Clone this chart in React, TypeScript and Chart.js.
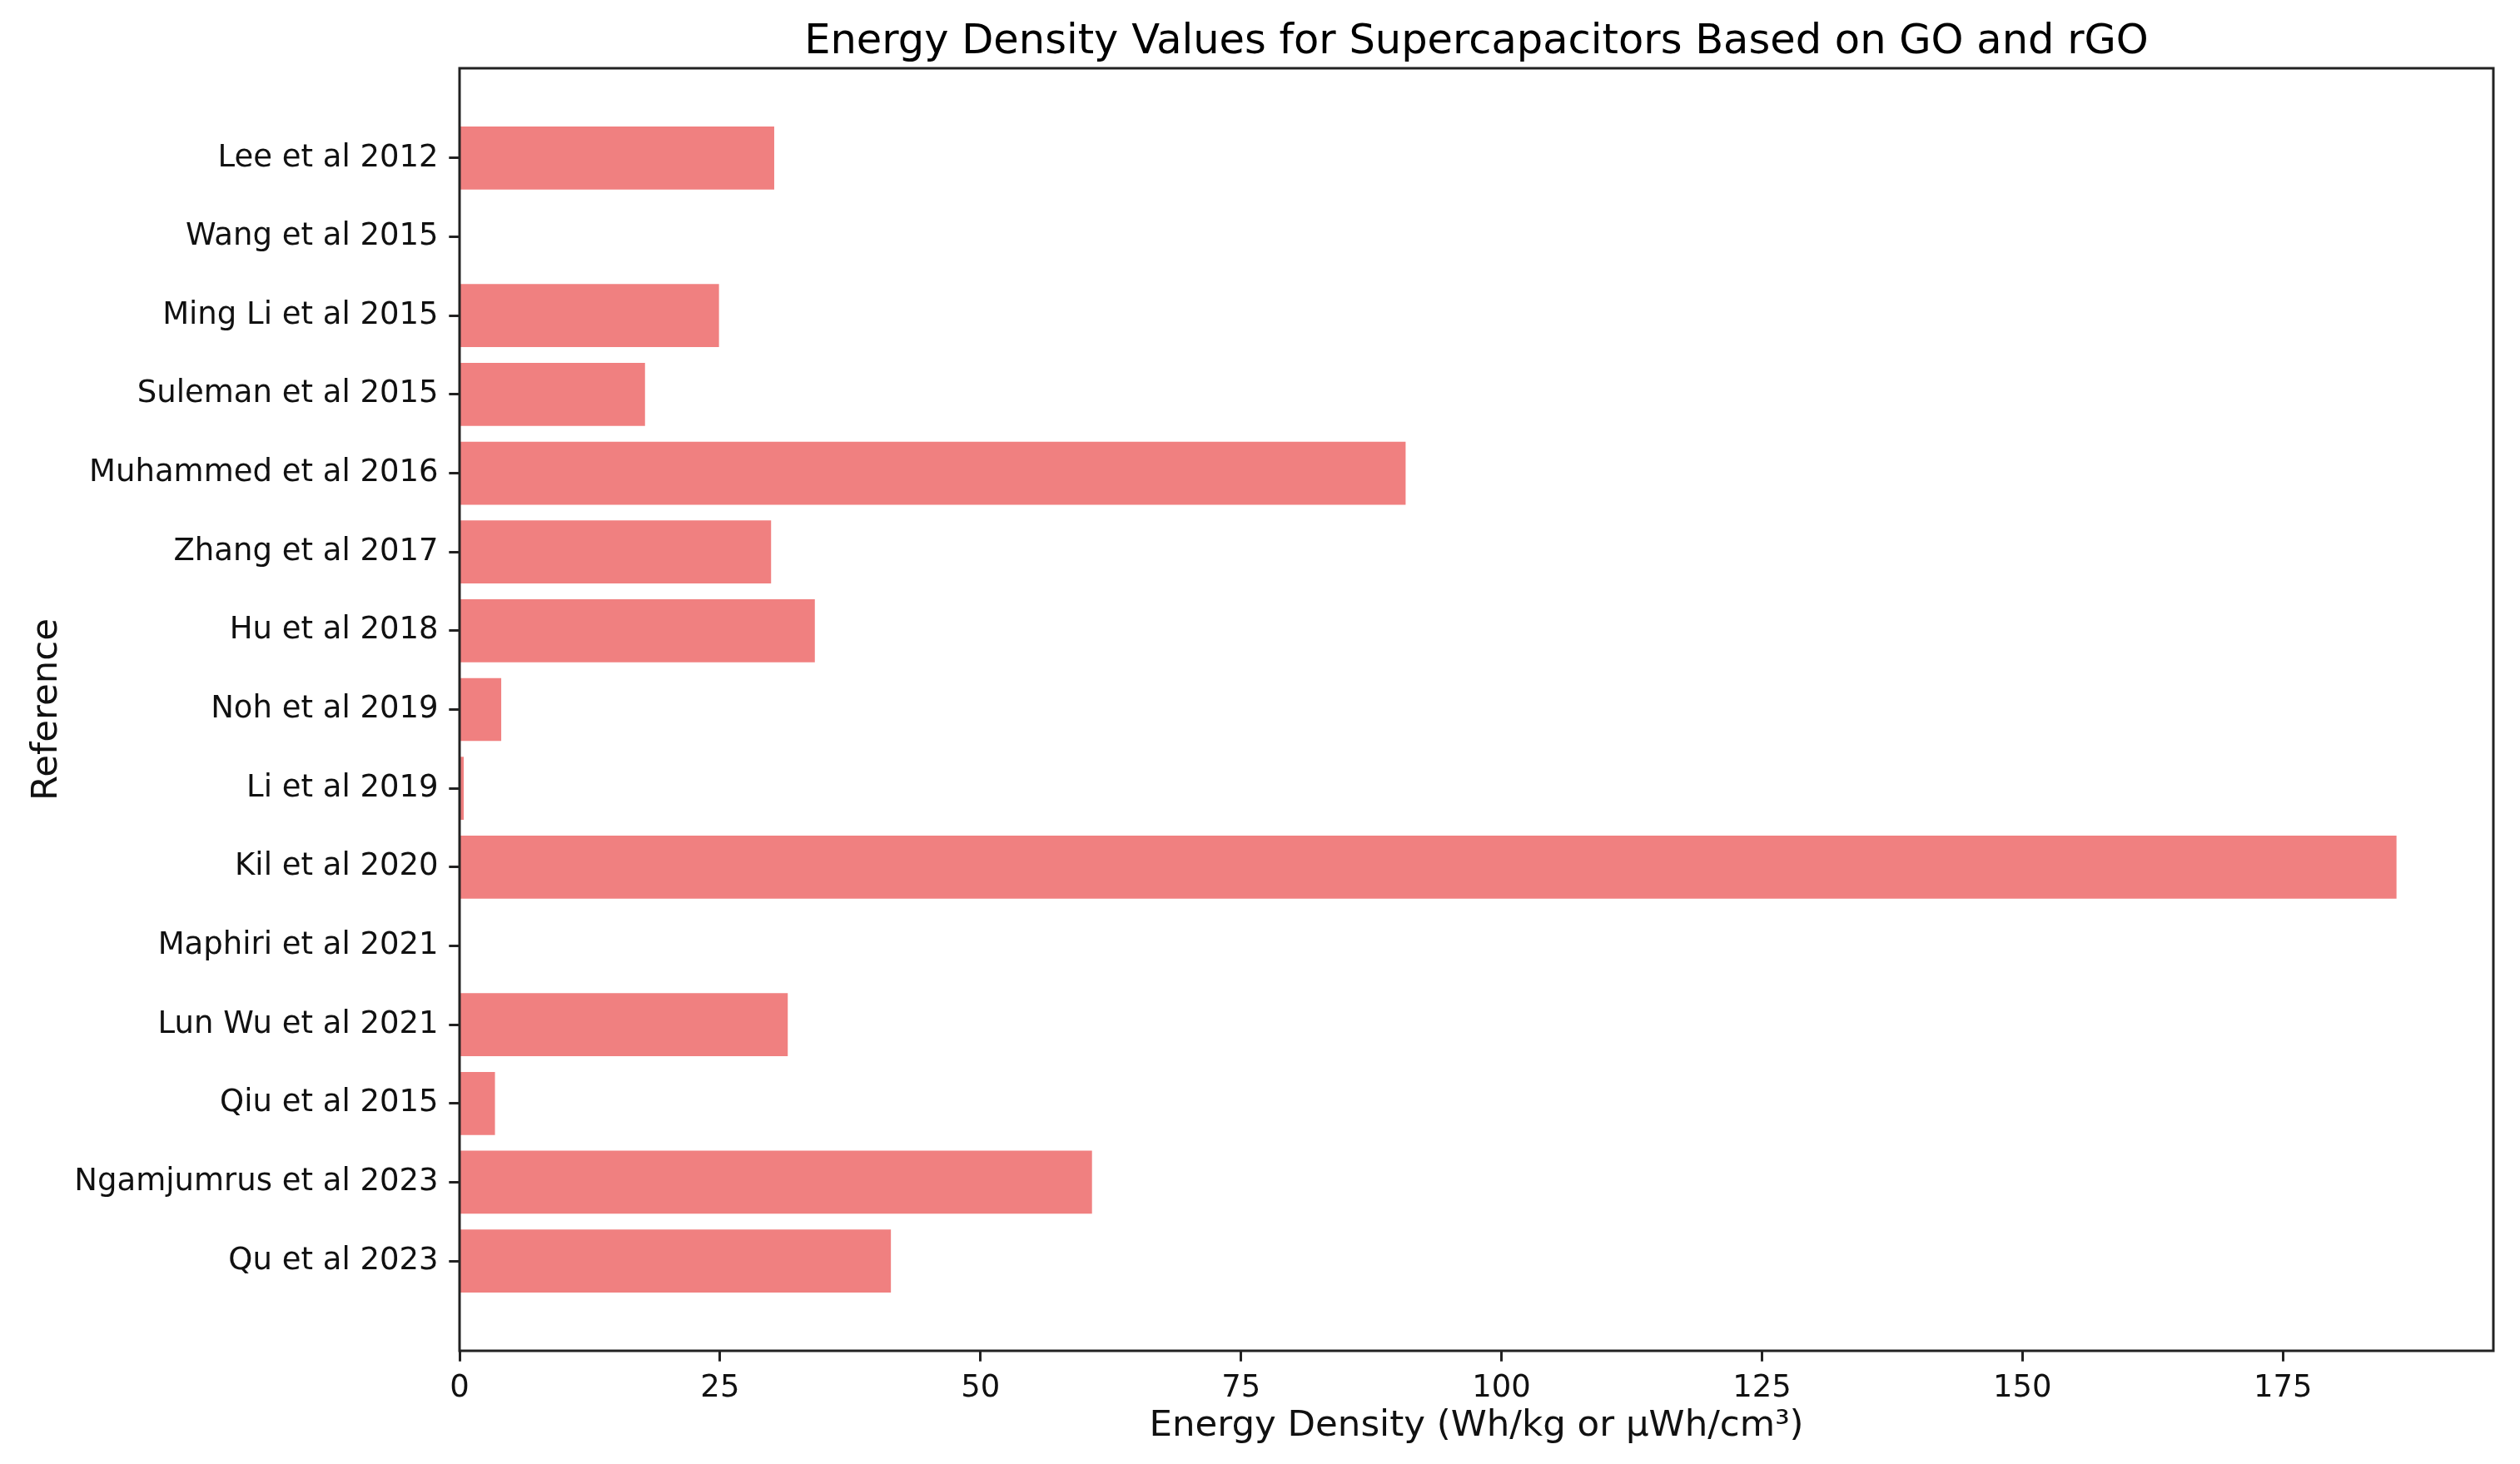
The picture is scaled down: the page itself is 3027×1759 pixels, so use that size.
import React, { useEffect, useRef } from "react";
import { Chart, registerables } from "chart.js";

Chart.register(...registerables);

const references = [
  "Lee et al 2012",
  "Wang et al 2015",
  "Ming Li et al 2015",
  "Suleman et al 2015",
  "Muhammed et al 2016",
  "Zhang et al 2017",
  "Hu et al 2018",
  "Noh et al 2019",
  "Li et al 2019",
  "Kil et al 2020",
  "Maphiri et al 2021",
  "Lun Wu et al 2021",
  "Qiu et al 2015",
  "Ngamjumrus et al 2023",
  "Qu et al 2023",
];

const energyDensity = [30.2, 0, 24.9, 17.8, 90.8, 29.9, 34.1, 4.0, 0.4, 185.9, 0, 31.5, 3.4, 60.7, 41.4];

const xTicks = [0, 25, 50, 75, 100, 125, 150, 175];

const titleText = "Energy Density Values for Supercapacitors Based on GO and rGO";
const xLabel = "Energy Density (Wh/kg or µWh/cm³)";
const yLabel = "Reference";

const W = 3027;
const H = 1759;
const FONT = "'DejaVu Sans', sans-serif";
const BAR_COLOR = "#F08080";
const SPINE = "#222";

export default function App() {
  const ref = useRef<HTMLCanvasElement | null>(null);

  useEffect(() => {
    document.body.style.margin = "0";
    const canvas = ref.current;
    if (!canvas) return;

    const maxVal = Math.max(...energyDensity);
    const n = references.length;
    // matplotlib-like margins: bars span i±0.4, 5% padding
    const span = (n - 1) + 0.8;
    const yMin = -0.4 - span * 0.05;
    const yMax = n - 1 + 0.4 + span * 0.05;

    const framePlugin = {
      id: "frame",
      afterDatasetsDraw(chart: any) {
        const { ctx, chartArea: a } = chart;
        ctx.save();
        ctx.strokeStyle = SPINE;
        ctx.lineWidth = 3;
        ctx.strokeRect(a.left, a.top, a.right - a.left, a.bottom - a.top);
        ctx.restore();
      },
      afterDraw(chart: any) {
        const { ctx, chartArea: a } = chart;
        ctx.save();
        ctx.fillStyle = "#000";
        ctx.font = `49.5px ${FONT}`;
        ctx.textAlign = "center";
        ctx.textBaseline = "alphabetic";
        ctx.fillText(titleText, (a.left + a.right) / 2, 64);
        ctx.restore();
      },
    };

    const chart = new Chart(canvas, {
      type: "bar",
      data: {
        datasets: [
          {
            data: energyDensity.map((v, i) => ({ x: v, y: i })),
            backgroundColor: BAR_COLOR,
            borderWidth: 0,
            categoryPercentage: 0.8,
            barPercentage: 1.0,
          },
        ],
      },
      options: {
        indexAxis: "y",
        responsive: false,
        animation: false,
        devicePixelRatio: 1,
        layout: { padding: { left: 0, top: 82, right: 32, bottom: 0 } },
        plugins: {
          legend: { display: false },
          tooltip: { enabled: false },
          title: { display: false },
        },
        scales: {
          x: {
            type: "linear",
            min: 0,
            max: maxVal * 1.05,
            offset: false,
            afterBuildTicks: (scale: any) => {
              scale.ticks = xTicks.map((v) => ({ value: v }));
            },
            afterFit: (scale: any) => {
              scale.height = H - 1623;
            },
            grid: {
              offset: false,
              drawOnChartArea: false,
              drawTicks: true,
              tickLength: 12.7,
              tickWidth: 3,
              tickColor: SPINE,
            },
            border: { display: false },
            ticks: {
              padding: 10,
              color: "#111",
              font: { family: FONT, size: 37 },
              maxRotation: 0,
              autoSkip: false,
            },
            title: {
              display: true,
              text: xLabel,
              color: "#111",
              font: { family: FONT, size: 43.5 },
              padding: { top: 0, bottom: 19 },
            },
          },
          y: {
            type: "linear",
            reverse: true,
            min: yMin,
            max: yMax,
            offset: false,
            afterBuildTicks: (scale: any) => {
              scale.ticks = references.map((_, i) => ({ value: i }));
            },
            afterFit: (scale: any) => {
              scale.width = 552;
            },
            grid: {
              offset: false,
              drawOnChartArea: false,
              drawTicks: true,
              tickLength: 12.7,
              tickWidth: 3,
              tickColor: SPINE,
            },
            border: { display: false },
            ticks: {
              padding: 12.7,
              color: "#111",
              font: { family: FONT, size: 37 },
              autoSkip: false,
              callback: (v: any) => references[Math.round(Number(v))] ?? "",
            },
            title: {
              display: true,
              text: yLabel,
              color: "#111",
              font: { family: FONT, size: 43.5 },
              padding: { top: 31, bottom: 0 },
            },
          },
        },
      },
      plugins: [framePlugin],
    });

    return () => chart.destroy();
  }, []);

  return <canvas ref={ref} width={W} height={H} style={{ display: "block", width: W, height: H }} />;
}
